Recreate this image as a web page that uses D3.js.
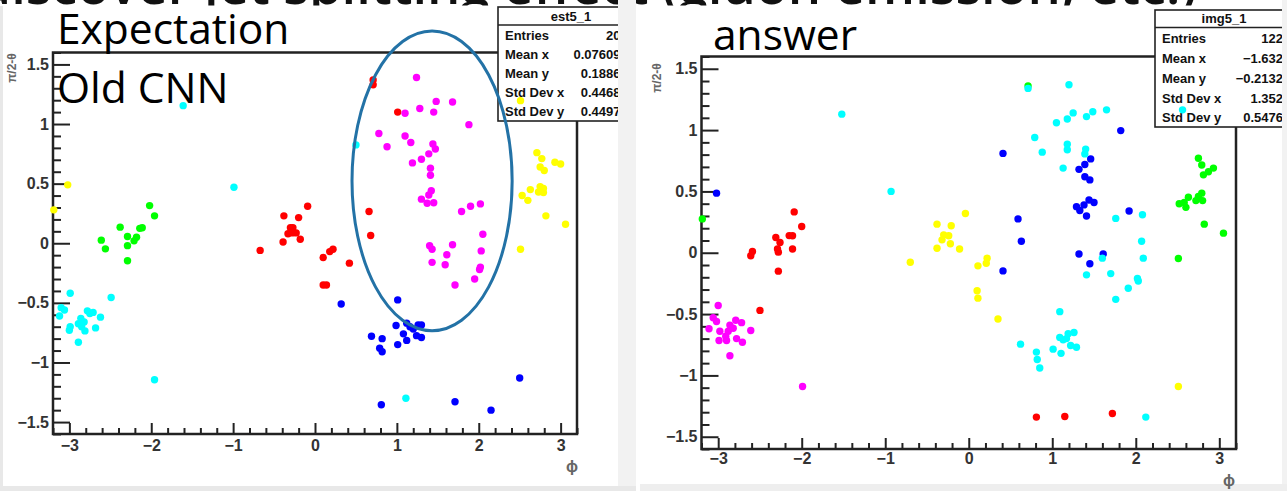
<!doctype html>
<html>
<head>
  <meta charset="utf-8">
  <script src="https://d3js.org/d3.v7.min.js"></script>
  <style>
    html, body {
      margin: 0;
      padding: 0;
      background: #fff;
    }
    svg {
      display: block;
    }
    .headline {
      font-family: "Open Sans", sans-serif;
      font-size: 52.5px;
      font-weight: 600;
      fill: #111;
    }
    .note {
      font-family: "Open Sans", sans-serif;
      font-size: 42.5px;
      fill: #000;
    }
    .axis .domain {
      display: none;
    }
    .axis line {
      stroke: #222;
      stroke-width: 2;
    }
    .tick text {
      font-family: "Liberation Sans", Arial, sans-serif;
      font-weight: bold;
      font-size: 16px;
      fill: #333;
    }
    .axis-title {
      font-family: "Liberation Sans", Arial, sans-serif;
      font-weight: bold;
      fill: #666;
    }
    .stats text {
      font-family: "Liberation Sans", Arial, sans-serif;
      font-weight: bold;
      font-size: 13px;
      fill: #111;
    }
  </style>
</head>
<body>
<script>
  /* global d3 */

  // ---- data: [phi, pi/2 - theta] per colour ----
  var expRed = [[0.71, 1.37], [0.71, 1.33], [1.01, 1.10], [-0.38, 0.23], [-0.09, 0.31], [-0.20, 0.215],
    [-0.30, 0.13], [-0.27, 0.13], [-0.28, 0.087], [-0.23, 0.087], [-0.33, 0.08], [-0.18, 0.034],
    [-0.39, 0.01], [-0.67, -0.06], [0.10, -0.12], [0.18, -0.07], [0.22, -0.05], [0.42, -0.167],
    [0.66, 0.266], [0.68, 0.065], [0.10, -0.35], [0.14, -0.35]];
  var expGreen = [[-2.02, 0.316], [-1.96, 0.23], [-2.38, 0.135], [-2.11, 0.13], [-2.14, 0.125],
    [-2.29, 0.056], [-2.18, 0.05], [-2.21, 0.02], [-2.29, -0.02], [-2.61, 0.026], [-2.56, -0.047],
    [-2.29, -0.147]];
  var expBlue = [[0.32, -0.51], [1.01, -0.475], [0.99, -0.69], [1.12, -0.67], [1.16, -0.70], [1.20, -0.72],
    [1.26, -0.685], [1.30, -0.685], [1.08, -0.76], [1.12, -0.815], [1.24, -0.775], [1.30, -0.79],
    [1.01, -0.85], [0.69, -0.78], [0.82, -0.80], [0.79, -0.88], [0.82, -0.91], [0.81, -1.355],
    [1.71, -1.33], [2.15, -1.40], [2.50, -1.13]];
  var expYellow = [[-3.02, 0.49], [-3.19, 0.28], [2.51, 1.196], [2.71, 0.76], [2.77, 0.71], [2.93, 0.68],
    [3.0, 0.665], [2.75, 0.64], [2.80, 0.61], [2.75, 0.475], [2.79, 0.46], [2.79, 0.425], [2.73, 0.43],
    [2.63, 0.45], [2.53, 0.40], [2.60, 0.36], [2.82, 0.23], [3.06, 0.16], [2.51, -0.05]];
  var expMagenta = [[1.24, 1.39], [1.48, 1.19], [1.68, 1.185], [1.28, 1.13], [1.45, 1.10], [1.10, 1.09],
    [1.88, 0.995], [0.78, 0.92], [1.10, 0.90], [1.17, 0.845], [0.88, 0.81], [1.44, 0.833], [1.47, 0.79],
    [1.39, 0.75], [1.30, 0.705], [1.19, 0.674], [1.41, 0.63], [1.41, 0.57], [1.42, 0.44], [1.39, 0.405],
    [1.30, 0.37], [1.37, 0.336], [1.45, 0.34], [1.79, 0.266], [1.90, 0.31], [2.02, 0.33], [2.05, 0.076],
    [1.40, -0.02], [1.43, -0.05], [1.68, -0.013], [1.61, -0.097], [2.03, -0.064], [1.43, -0.16],
    [1.59, -0.18], [2.01, -0.22], [2.02, -0.20], [1.95, -0.30], [1.71, -0.35]];
  var expCyan = [[-1.61, 1.154], [-0.99, 0.47], [0.50, 0.825], [-2.99, -0.42], [-2.49, -0.455],
    [-3.10, -0.54], [-3.06, -0.56], [-3.12, -0.61], [-2.78, -0.567], [-2.71, -0.58], [-2.75, -0.59],
    [-2.62, -0.62], [-2.86, -0.63], [-2.82, -0.66], [-2.89, -0.675], [-2.85, -0.70], [-2.81, -0.735],
    [-2.99, -0.70], [-3.0, -0.73], [-2.68, -0.71], [-2.89, -0.83], [-1.96, -1.145], [1.11, -1.30]];

  var ansRed = [[-2.09, 0.333], [-2.00, 0.214], [-2.31, 0.124], [-2.26, 0.083], [-2.15, 0.14],
    [-2.11, 0.138], [-2.29, 0.03], [-2.28, 0.005], [-2.11, 0.03], [-2.59, 0.01], [-2.61, -0.025],
    [-2.28, -0.15], [-2.50, -0.47], [0.81, -1.34], [1.15, -1.335], [1.72, -1.31]];
  var ansGreen = [[-3.19, 0.276], [0.71, 1.36], [2.75, 0.77], [2.79, 0.716], [2.93, 0.69], [2.87, 0.66],
    [2.81, 0.635], [2.79, 0.486], [2.75, 0.458], [2.80, 0.425], [2.72, 0.425], [2.63, 0.453], [2.58, 0.41],
    [2.52, 0.40], [2.60, 0.37], [2.82, 0.233], [3.05, 0.16], [2.51, -0.047]];
  var ansBlue = [[-3.02, 0.486], [1.82, 0.996], [0.41, 0.81], [1.46, 0.765], [1.39, 0.72], [1.32, 0.68],
    [1.39, 0.62], [1.45, 0.594], [1.44, 0.43], [1.50, 0.41], [1.38, 0.39], [1.29, 0.376], [1.33, 0.344],
    [1.41, 0.30], [1.92, 0.34], [0.59, 0.276], [0.63, 0.094], [1.32, -0.01], [1.61, -0.01], [1.45, -0.09],
    [0.41, -0.148]];
  var ansYellow = [[-0.38, 0.233], [-0.21, 0.22], [-0.04, 0.32], [-0.30, 0.146], [-0.24, 0.138],
    [-0.32, 0.105], [-0.22, 0.073], [-0.38, 0.037], [-0.11, 0.03], [-0.70, -0.077], [0.11, -0.107],
    [0.21, -0.085], [0.22, -0.044], [0.10, -0.31], [0.11, -0.37], [0.35, -0.54], [2.51, -1.09]];
  var ansMagenta = [[-3.0, -0.43], [-3.06, -0.53], [-3.02, -0.56], [-3.11, -0.62], [-2.98, -0.64],
    [-2.99, -0.715], [-2.79, -0.55], [-2.72, -0.57], [-2.86, -0.59], [-2.82, -0.615], [-2.88, -0.64],
    [-2.91, -0.68], [-2.90, -0.715], [-2.78, -0.70], [-2.71, -0.73], [-2.61, -0.634], [-2.86, -0.84],
    [-1.99, -1.09]];
  var ansCyan = [[-1.52, 1.13], [-0.93, 0.50], [0.71, 1.34], [1.20, 1.37], [1.25, 1.14], [1.18, 1.09],
    [1.05, 1.06], [1.41, 1.11], [1.485, 1.15], [1.65, 1.165], [2.56, 1.165], [0.79, 0.94], [0.88, 0.82],
    [1.18, 0.885], [1.18, 0.84], [1.40, 0.845], [1.39, 0.806], [1.13, 0.69], [2.08, 0.31], [1.76, 0.28],
    [2.07, 0.094], [2.09, -0.044], [1.60, -0.044], [1.41, -0.18], [1.70, -0.17], [2.02, -0.21],
    [2.03, -0.23], [1.91, -0.29], [1.76, -0.38], [1.09, -0.48], [0.62, -0.745], [0.81, -0.81],
    [0.82, -0.87], [0.85, -0.94], [1.09, -0.69], [1.13, -0.71], [1.19, -0.66], [1.26, -0.65],
    [1.17, -0.70], [1.22, -0.756], [1.29, -0.77], [1.01, -0.786], [1.105, -0.82], [2.12, -1.34]];

  var xTicks = [-3, -2, -1, 0, 1, 2, 3];
  var yTicks = [-1.5, -1, -0.5, 0, 0.5, 1, 1.5];
  var statLabels = ["Entries", "Mean x", "Mean y", "Std Dev x", "Std Dev y"];
  var expStats = ["20", "0.07609", "0.1886", "0.4468", "0.4497"];
  var ansStats = ["122", "\u22121.632", "\u22120.2132", "1.352", "0.5476"];
  // circled region on the left plot: centre phi, theta, half widths
  var ringExp = [1.43, 0.523, 0.978, 1.257];

  var W = 1287, H = 491;

  var svg = d3.select("body").append("svg")
    .attr("width", W)
    .attr("height", H);

  var defs = svg.append("defs");

  // slide headline, mostly hidden under the pasted screenshots
  defs.append("clipPath").attr("id", "clip-top")
    .append("rect").attr("x", 0).attr("y", 0).attr("width", W).attr("height", 5.5);
  svg.append("text")
    .attr("class", "headline")
    .attr("clip-path", "url(#clip-top)")
    .attr("x", 1197)
    .attr("y", 4)
    .attr("text-anchor", "end")
    .text("to discover jet splitting effect (gluon emission, etc.)");

  // screenshot borders
  svg.append("rect").attr("x", 0).attr("y", 6).attr("width", 3).attr("height", H).attr("fill", "#e8e8e8");
  svg.append("rect").attr("x", 618).attr("y", 0).attr("width", 18).attr("height", H).attr("fill", "#f2f2f2");
  svg.append("rect").attr("x", 1282).attr("y", 0).attr("width", 5).attr("height", H).attr("fill", "#f2f2f2");
  svg.append("rect").attr("x", 0).attr("y", 486).attr("width", 636).attr("height", 5).attr("fill", "#e8e8e8");
  svg.append("rect").attr("x", 640).attr("y", 484).attr("width", 647).attr("height", 7).attr("fill", "#eeeeee");

  var colours = {
    red: "#ff0000", green: "#00ff00", blue: "#0000ff",
    yellow: "#ffff00", magenta: "#ff00ff", cyan: "#00ffff"
  };

  var panels = [
    {
      id: "exp", name: "est5_1", stats: expStats,
      series: [["red", expRed], ["green", expGreen], ["blue", expBlue],
        ["yellow", expYellow], ["magenta", expMagenta], ["cyan", expCyan]],
      xRange: [53, 577], yRange: [434, 52.5],
      yPad: 4, xPad: 6,
      yTitle: [12, 68], xTitle: [572, 466],
      box: { x: 498, y: 7, w: 146, h: 114, sep: 25, clip: 618, labelX: 505, valueX: 620.5,
        rows: [35, 54.5, 73.5, 92.7, 111.7], titleY: 16 },
      notes: [["Expectation", 57, 44], ["Old CNN", 57, 103]],
      ring: ringExp
    },
    {
      id: "ans", name: "img5_1", stats: ansStats,
      series: [["red", ansRed], ["green", ansGreen], ["blue", ansBlue],
        ["yellow", ansYellow], ["magenta", ansMagenta], ["cyan", ansCyan]],
      xRange: [701.5, 1236], yRange: [449, 56.5],
      yPad: 4, xPad: 4,
      yTitle: [657, 78], xTitle: [1229, 480],
      box: { x: 1155, y: 10, w: 138, h: 117, sep: 27.5, clip: 1282, labelX: 1162, valueX: 1283,
        rows: [38, 58, 78.5, 98.5, 117], titleY: 18.5 },
      notes: [["answer", 713, 50]]
    }
  ];

  panels.forEach(drawPanel);

  function drawPanel (p) {
    var x = d3.scaleLinear().domain([-3.2, 3.2]).range(p.xRange);
    var y = d3.scaleLinear().domain([-1.6, 1.6]).range(p.yRange);
    var g = svg.append("g").attr("class", p.id);

    var x0 = x(-3.2), y0 = y(-1.6);

    // minor / major ticks, drawn inward like ROOT does
    var yMinor = d3.range(-16, 17).map(function (d) { return d / 10; })
      .filter(function (d) { return Math.abs(d * 2 - Math.round(d * 2)) > 1e-6; });
    var xMinor = d3.range(-16, 17).map(function (d) { return d / 5; })
      .filter(function (d) { return Math.abs(d - Math.round(d)) > 1e-6; });

    g.append("g").attr("class", "axis")
      .attr("transform", "translate(" + x0 + ",0)")
      .call(d3.axisLeft(y).tickValues(yMinor).tickSize(-8).tickFormat(""));
    g.append("g").attr("class", "axis")
      .attr("transform", "translate(" + x0 + ",0)")
      .call(d3.axisLeft(y).tickValues(yTicks).tickSize(-17).tickPadding(p.yPad)
        .tickFormat(d3.format("~g")));
    g.append("g").attr("class", "axis")
      .attr("transform", "translate(0," + y0 + ")")
      .call(d3.axisBottom(x).tickValues(xMinor).tickSize(-6).tickFormat(""));
    g.append("g").attr("class", "axis")
      .attr("transform", "translate(0," + y0 + ")")
      .call(d3.axisBottom(x).tickValues(xTicks).tickSize(-11).tickPadding(p.xPad)
        .tickFormat(d3.format("~g")));

    // frame
    g.append("rect")
      .attr("x", x0)
      .attr("y", y(1.6))
      .attr("width", x(3.2) - x0)
      .attr("height", y0 - y(1.6))
      .attr("fill", "none")
      .attr("stroke", "#222")
      .attr("stroke-width", 2.5);

    // axis titles
    g.append("text")
      .attr("class", "axis-title")
      .attr("transform", "translate(" + p.yTitle[0] + "," + p.yTitle[1] + ") rotate(-90)")
      .attr("text-anchor", "middle")
      .attr("dominant-baseline", "central")
      .style("font-size", "12px")
      .text("\u03c0/2-\u03b8");
    g.append("text")
      .attr("class", "axis-title")
      .attr("x", p.xTitle[0])
      .attr("y", p.xTitle[1])
      .attr("text-anchor", "middle")
      .attr("dominant-baseline", "central")
      .style("font-size", "16px")
      .text("\u03d5");

    // stats box
    var b = p.box;
    defs.append("clipPath").attr("id", "clip-" + p.id)
      .append("rect").attr("x", b.x - 3).attr("y", 0).attr("width", b.clip - b.x + 3).attr("height", 200);
    var s = g.append("g").attr("class", "stats").attr("clip-path", "url(#clip-" + p.id + ")");
    s.append("rect")
      .attr("x", b.x).attr("y", b.y).attr("width", b.w).attr("height", b.h)
      .attr("fill", "#fff").attr("stroke", "#222").attr("stroke-width", 1.6);
    s.append("line")
      .attr("x1", b.x).attr("x2", b.x + b.w).attr("y1", b.sep).attr("y2", b.sep)
      .attr("stroke", "#222").attr("stroke-width", 1.6);
    s.append("text")
      .attr("x", b.x + b.w / 2).attr("y", b.titleY)
      .attr("text-anchor", "middle").attr("dominant-baseline", "central")
      .text(p.name);
    s.selectAll("text.lab").data(statLabels).enter().append("text")
      .attr("class", "lab")
      .attr("x", b.labelX)
      .attr("y", function (d, i) { return b.rows[i]; })
      .attr("dominant-baseline", "central")
      .text(function (d) { return d; });
    s.selectAll("text.val").data(p.stats).enter().append("text")
      .attr("class", "val")
      .attr("x", b.valueX)
      .attr("y", function (d, i) { return b.rows[i]; })
      .attr("text-anchor", "end")
      .attr("dominant-baseline", "central")
      .text(function (d) { return d; });

    // markers
    p.series.forEach(function (ser) {
      g.append("g").selectAll("circle").data(ser[1]).enter().append("circle")
        .attr("cx", function (d) { return x(d[0]); })
        .attr("cy", function (d) { return y(d[1]); })
        .attr("r", 3.7)
        .attr("fill", colours[ser[0]]);
    });

    // slide annotations
    p.notes.forEach(function (n) {
      svg.append("text").attr("class", "note").attr("x", n[1]).attr("y", n[2]).text(n[0]);
    });

    if (p.ring) {
      svg.append("ellipse")
        .attr("cx", x(p.ring[0]))
        .attr("cy", y(p.ring[1]))
        .attr("rx", x(p.ring[0] + p.ring[2]) - x(p.ring[0]))
        .attr("ry", y(p.ring[1] - p.ring[3]) - y(p.ring[1]))
        .attr("fill", "none")
        .attr("stroke", "#2372a6")
        .attr("stroke-width", 3);
    }
  }
</script>
</body>
</html>
